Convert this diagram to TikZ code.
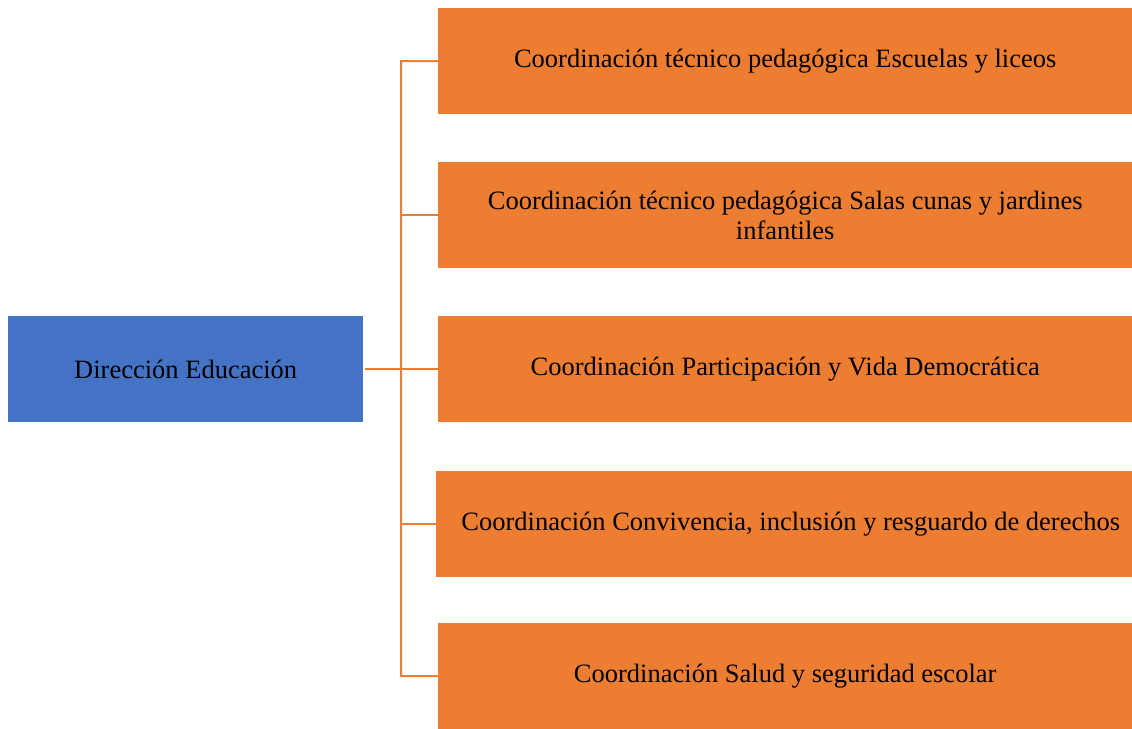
\documentclass[tikz,border=0pt]{standalone}
\usepackage{fontspec}
\setmainfont{Liberation Serif}
\definecolor{orangebox}{HTML}{ED7D31}
\definecolor{bluebox}{HTML}{4472C4}
\begin{document}
\begin{tikzpicture}[x=1pt,y=-1pt,
  unitbox/.style={fill=orangebox, draw=none, inner sep=0pt, minimum width=694pt, minimum height=106pt,
    anchor=north west, align=center, font=\fontsize{26.5}{30}\selectfont},
  headbox/.style={fill=bluebox, draw=none, inner sep=0pt, minimum width=355pt, minimum height=106pt,
    anchor=north west, align=center, font=\fontsize{26.5}{30}\selectfont},
  conn/.style={draw=orangebox, line width=2pt}]
\useasboundingbox (0,0) rectangle (1132,728);
\node[headbox] (head) at (8,316) {Dirección Educación};
\node[unitbox] (b1) at (438,8) {Coordinación técnico pedagógica Escuelas y liceos};
\node[unitbox] (b2) at (438,162) {Coordinación técnico pedagógica Salas cunas y jardines\\infantiles};
\node[unitbox] (b3) at (438,316) {Coordinación Participación y Vida Democrática};
\node[unitbox, minimum width=696pt] (b4) at (436,471) {\hspace*{13pt}Coordinación Convivencia, inclusión y resguardo de derechos};
\node[unitbox] (b5) at (438,623) {Coordinación Salud y seguridad escolar};
\coordinate (top) at (401,61);
\draw[conn] (b1.west) -- (top) -- (top |- b5.west) -- (b5.west);
\draw[conn] (b2.west) -- (top |- b2.west);
\draw[conn] (b4.west) -- (top |- b4.west);
\draw[conn] ([xshift=2pt]head.east) -- (b3.west);
\end{tikzpicture}
\end{document}
